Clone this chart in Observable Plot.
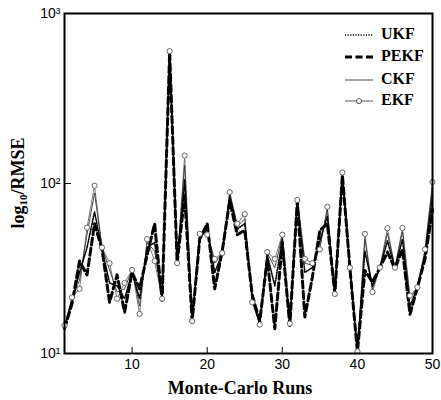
<!DOCTYPE html>
<html><head><meta charset="utf-8">
<script src="https://cdn.jsdelivr.net/npm/d3@7"></script>
<script src="https://cdn.jsdelivr.net/npm/@observablehq/plot@0.6"></script>
<style>body{margin:0;background:#fff;}</style>
</head><body><div id="chart"></div>
<script>
const runs = [1,2,3,4,5,6,7,8,9,10,11,12,13,14,15,16,17,18,19,20,21,22,23,24,25,26,27,28,29,30,31,32,33,34,35,36,37,38,39,40,41,42,43,44,45,46,47,48,49,50];
const ukf  = [14.2,20.5,30,42,68,41,26,25,21,30,21,42,45,20.8,595,34,105,15.5,48,54,30,39,84,54,58,21,15,38,25,47,14.8,79,30,32,46,64,22.4,114,32,10.2,40,25,32,46,31.8,47,19,24.5,38,85];
const pekf = [14,19.6,35,29,58,41,20,29,17.5,30,24,38,58,20.5,590,34,85,15.5,47,58,24,40,79,50,53,22,15.5,36,14,45,14.6,79,16.4,28,53,58,22.4,112,32,10.2,30.8,26.3,32,39.5,31.5,41,17,24.5,36,70];
const ckf  = [14.4,21,27,50,88,42,31,23,24,31,19,45,40,21,598,34,128,15.5,50,52,34,39,87,56,62,20.5,14.9,39,32,49,14.9,80,34,33,43,70,22.4,115,32,10.3,47,24,32,51,32,52,21,24.5,40,96];
const ekf  = [14.6,21.4,24,55,97,42,34,21,26,31,17.1,47,35,21,600,34,146,15.5,50.6,50,36,39,89,58,66,20,14.8,39.5,36,50,15,80,36,34,41,73,22.4,116,32,10.3,50.6,23,32,54.5,32,54.8,21.9,24.5,41,102];

const xTicks = [10,20,30,40,50];
const yTicks = [10,100,1000];
const yTickLabels = ["10¹","10²","10³"];
const seriesNames = ["UKF","PEKF","CKF","EKF"];
const xLabel = "Monte-Carlo Runs";

const rows = vals => runs.map((r,i)=>({run:r, value:vals[i]}));

const chart = Plot.plot({
  width:441, height:400,
  marginLeft:64, marginRight:9, marginTop:13, marginBottom:47,
  style:{fontFamily:"'Liberation Sans', Arial, sans-serif", fontSize:"14px", background:"#fff", color:"#000", overflow:"visible"},
  x:{domain:[1,50]},
  y:{type:"log", domain:[10,1000]},
  marks:[
    Plot.axisX({ticks:xTicks, tickSize:-6, tickPadding:12, label:null, tickFormat:d=>String(d)}),
    Plot.axisY({ticks:yTicks, tickSize:-7, tickPadding:11, label:null, tickFormat:d=>yTickLabels[yTicks.indexOf(d)]}),
    Plot.lineY(rows(ekf), {x:"run", y:"value", stroke:"#555", strokeWidth:0.8}),
    Plot.lineY(rows(ckf), {x:"run", y:"value", stroke:"#333", strokeWidth:0.9}),
    Plot.lineY(rows(ukf), {x:"run", y:"value", stroke:"#000", strokeWidth:1.6, strokeDasharray:"1.2,1.4"}),
    Plot.lineY(rows(pekf), {x:"run", y:"value", stroke:"#000", strokeWidth:3, strokeDasharray:"7,3.5"}),
    Plot.dot(rows(ekf), {x:"run", y:"value", r:2.6, fill:"white", stroke:"#555", strokeWidth:0.9}),
    Plot.frame({stroke:"#000", strokeWidth:2})
  ]
});
document.getElementById("chart").appendChild(chart);

const svg = d3.select(chart);
const serif = "'Liberation Serif', 'Times New Roman', serif";
// axis titles
svg.append("text").attr("x",240).attr("y",390).attr("text-anchor","middle").attr("dominant-baseline","middle")
  .attr("font-family",serif).attr("font-weight","bold").attr("font-size",18).text(xLabel);
const yl = svg.append("text").attr("transform","translate(20,183) rotate(-90)").attr("text-anchor","middle")
  .attr("dominant-baseline","middle").attr("font-family",serif).attr("font-weight","bold").attr("font-size",18);
yl.append("tspan").text("log");
yl.append("tspan").attr("font-size",11).attr("dy",4).text("10");
yl.append("tspan").attr("dy",-4).text("/RMSE");

// legend
const lg = svg.append("g");
const ly = [35,57,80,101];
const styles = [
  {w:1.6, dash:"1.2,1.4", c:"#000"},
  {w:3, dash:"7,3.5", c:"#000"},
  {w:0.9, dash:null, c:"#333"},
  {w:0.9, dash:null, c:"#444"}
];
seriesNames.forEach((name,i)=>{
  const l = lg.append("line").attr("x1",345).attr("x2",373).attr("y1",ly[i]).attr("y2",ly[i])
    .attr("stroke",styles[i].c).attr("stroke-width",styles[i].w);
  if (styles[i].dash) l.attr("stroke-dasharray",styles[i].dash);
  if (name==="EKF") lg.append("circle").attr("cx",359).attr("cy",ly[i]).attr("r",2.5).attr("fill","white").attr("stroke","#444").attr("stroke-width",0.9);
  lg.append("text").attr("x",381).attr("y",ly[i]).attr("text-anchor","start").attr("dominant-baseline","middle")
    .attr("font-family",serif).attr("font-weight","bold").attr("font-size",16).text(name);
});
</script>
</body></html>
